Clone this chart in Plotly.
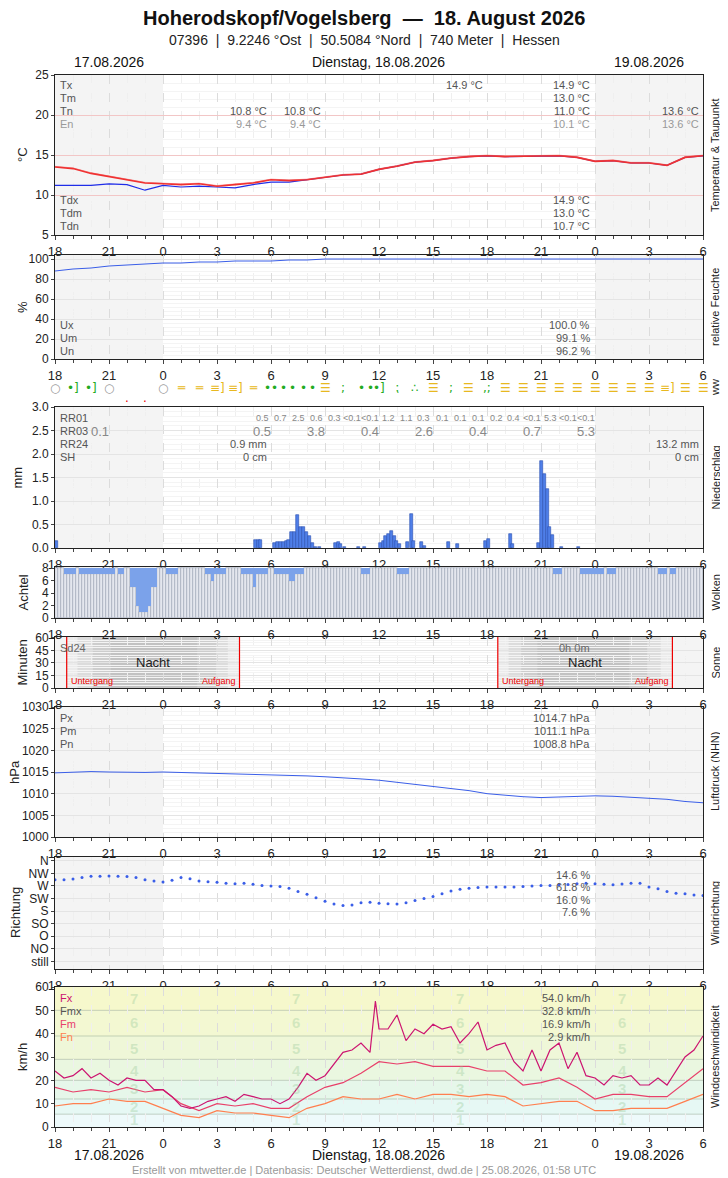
import plotly.graph_objects as go

# page body has an 8px margin -> figure drawn 8px in from top-left
OX, OY = 8, 8
W, H = 720, 1170
FONT = "Liberation Sans Narrow, Liberation Sans, Arial"

# ---------------- data ----------------
hours = list(range(0, 37))
tick_hours = list(range(0, 37, 3))
tick_text = ["18", "21", "0", "3", "6", "9", "12", "15", "18", "21", "0", "3", "6"]

temp = [13.5, 13.3, 12.7, 12.3, 11.9, 11.5, 11.4, 11.3, 11.4, 11.1, 11.3, 11.5, 11.9, 11.8, 11.9,
        12.2, 12.5, 12.6, 13.2, 13.6, 14.1, 14.3, 14.6, 14.8, 14.9, 14.8, 14.85, 14.9, 14.9, 14.7,
        14.2, 14.3, 14.0, 14.0, 13.7, 14.7, 14.9]
dewp = [11.2, 11.2, 11.2, 11.4, 11.3, 10.6, 11.2, 11.0, 11.1, 11.0, 10.9, 11.3, 11.6, 11.6, 11.9,
        12.2, 12.5, 12.6, 13.2, 13.6, 14.1, 14.3, 14.6, 14.8, 14.9, 14.8, 14.85, 14.9, 14.9, 14.7,
        14.2, 14.3, 14.0, 14.0, 13.7, 14.7, 14.9]
humid = [88, 90, 91, 93, 94, 95, 96, 96, 97, 97, 98, 98, 98, 99, 99, 100, 100, 100, 100, 100, 100,
         100, 100, 100, 100, 100, 100, 100, 100, 100, 100, 100, 100, 100, 100, 100, 100]

ww_hours = [0, 1, 2, 3, 4, 5, 6, 7, 8, 9, 10, 11, 11.8, 12.2, 12.7, 13.2, 13.8, 14.3, 15, 16, 17, 17.5,
            18, 19, 20, 21, 22, 23, 24, 25, 26, 27, 28, 29, 30, 31, 32, 33, 34, 35, 36]
ww_syms = ["○", "•]", "•]", "○", ".", ".", "○", "═", "═", "≡]", "≡]", "═", "•", "•", "•", "•", "•", "•",
           "☰", ";", "•", "•", "•]", "⁏", "∴", "☰", ";", "☰", ",;", "☰", "☰", "☰", "☰", "☰", "☰", "☰",
           "☰", "☰", "≡]", "☰", "☰"]

precip_t = [0.0, 11.05, 11.2, 11.35, 12.1, 12.3, 12.45, 12.6, 12.75, 12.9, 13.05, 13.2, 13.4, 13.55,
            13.7, 13.9, 14.05, 14.2, 14.4, 14.6, 15.5, 15.65, 15.8, 16.0, 16.8, 17.1, 18.0, 18.15,
            18.3, 18.45, 18.6, 18.75, 18.9, 19.05, 19.5, 19.7, 19.85, 20.3, 20.45, 21.8, 22.3, 23.85,
            24.0, 25.2, 25.35, 26.8, 26.95, 27.1, 27.25, 27.4, 27.55, 28.05, 29.0]
precip_mm = [0.15, 0.17, 0.18, 0.17, 0.1, 0.12, 0.13, 0.12, 0.15, 0.18, 0.35, 0.35, 0.7, 0.45,
             0.45, 0.35, 0.25, 0.1, 0.03, 0.02, 0.1, 0.12, 0.08, 0.03, 0.03, 0.03, 0.1, 0.15,
             0.25, 0.3, 0.37, 0.25, 0.15, 0.08, 0.12, 0.72, 0.15, 0.12, 0.05, 0.12, 0.08, 0.15,
             0.2, 0.3, 0.08, 0.1, 1.85, 1.57, 1.26, 0.45, 0.27, 0.02, 0.02]
rr01_h = [11.5, 12.5, 13.5, 14.5, 15.5, 16.5, 17.5, 18.5, 19.5, 20.5, 21.5, 22.5, 23.5, 24.5, 25.5,
          26.5, 27.5, 28.5, 29.5]
rr01_t = ["0.5", "0.7", "2.5", "0.6", "0.3", "<0.1", "<0.1", "1.2", "1.1", "0.3", "0.1", "0.1", "0.1",
          "0.2", "0.4", "<0.1", "5.3", "<0.1", "<0.1"]
rr03_h = [2.5, 11.5, 14.5, 17.5, 20.5, 23.5, 26.5, 29.5]
rr03_t = ["0.1", "0.5", "3.8", "0.4", "2.6", "0.4", "0.7", "5.3"]

cloud_seg_start = [0.5, 1.3, 3.5, 4.2, 4.5, 4.6, 5.1, 5.3, 6.2, 8.4, 8.7, 8.9, 10.3, 11.0, 11.2,
                   12.2, 13.0, 13.4, 17.0, 19.0, 27.7, 29.2, 30.7, 33.5, 34.2]
cloud_seg_end = [1.2, 3.3, 3.9, 4.5, 4.6, 5.1, 5.3, 5.6, 6.8, 8.7, 8.9, 9.5, 11.0, 11.2, 11.8,
                 13.0, 13.4, 13.8, 17.5, 19.6, 28.1, 30.5, 31.2, 34.0, 34.5]
cloud_seg_val = [7, 7, 7, 5, 2, 1, 2, 5, 7, 7, 6, 7, 7, 5, 7, 7, 6, 7, 7, 7, 7, 7, 7, 7, 7]

night_layers = [  # start, end, colour
    (0.65, 10.25, "#ebebeb"), (1.25, 9.6, "#dcdcdc"), (2.1, 8.95, "#cdcdcd"), (3.1, 7.9, "#c2c2c2"),
    (24.6, 34.3, "#ebebeb"), (25.2, 33.65, "#dcdcdc"), (25.9, 32.9, "#cdcdcd"), (26.8, 31.9, "#c2c2c2")]
sunset_h = [0.65, 24.6]
sunrise_h = [10.25, 34.3]

press = [1014.8, 1014.9, 1015.1, 1015.0, 1014.9, 1014.9, 1015.0, 1014.9, 1014.7, 1014.6, 1014.6,
         1014.5, 1014.4, 1014.2, 1014.1, 1013.9, 1013.7, 1013.4, 1013.1, 1012.6, 1012.1, 1011.6,
         1011.1, 1010.7, 1010.0, 1009.6, 1009.3, 1009.1, 1009.2, 1009.4, 1009.5, 1009.4, 1009.2,
         1009.0, 1008.7, 1008.2, 1007.9]

wdir_h = [i * 0.5 for i in range(73)]
wdir = [292, 292, 295, 300, 305, 305, 306, 305, 304, 300, 292, 288, 284, 290, 300, 296, 288, 285,
        283, 280, 278, 280, 276, 272, 270, 268, 262, 250, 240, 228, 215, 205, 200, 202, 210, 212,
        208, 206, 205, 210, 218, 225, 232, 242, 252, 258, 262, 264, 266, 266, 266, 266, 268, 270,
        272, 272, 274, 275, 278, 280, 278, 276, 274, 277, 280, 280, 266, 260, 250, 244, 242, 238, 236]

fx_h = [i * 0.5 for i in range(73)]
fx = [24, 21, 22, 25, 21, 23, 20, 18, 21, 20, 20, 16, 16, 13, 9, 8, 9, 11, 12, 13, 11, 14, 13, 12,
      12, 10, 12, 17, 23, 20, 22, 27, 32, 33, 36, 32, 42, 42, 48, 37, 42, 40, 44, 42, 43, 36, 40, 45,
      33, 35, 36, 28, 24, 33, 24, 33, 36, 25, 32, 22, 21, 18, 22, 21, 22, 18, 18, 21, 18, 24, 30, 33, 39]
fx_spike_h = [17.8]
fx_spike = [54]
fm = [17, 15, 16, 15, 17, 15, 16, 10, 7, 10, 9, 10, 8, 8, 13, 17, 19, 23, 28, 27, 28, 26, 26, 26,
      24, 24, 18, 19, 21, 17, 12, 14, 14, 13, 13, 19, 25]
fn = [9, 10, 10, 12, 11, 11, 8, 5, 4, 7, 6, 6, 5, 4, 8, 10, 13, 12, 12, 14, 12, 14, 14, 13, 14, 13,
      9, 10, 11, 11, 7, 7, 8, 8, 8, 11, 14]
bft_lower = [0, 5.5, 12, 20, 29, 39, 50]
bft_upper = [5.5, 12, 20, 29, 39, 50, 60]
bft_colors = ["#eefafb", "#e6f8f4", "#e6f7ea", "#eaf7e0", "#eff7d8", "#f3f8d2", "#f6f8cc"]
bft_digit_y = [3.3, 8.6, 16.3, 24.4, 33.7, 45, 55]

# ---------------- layout helpers ----------------
def yp(p):
    return 1 - (p - OY) / H

def xp(p):
    return (p - OX) / W

XL, XR = 55, 703
panels = [  # top, bottom, range, ytitle, right title, dtick, ytitle x
    (75, 235, [5, 25], "°C", "Temperatur & Taupunkt", 5, 22),
    (255, 359, [0, 104], "%", "relative Feuchte", 20, 22),
    (407, 548, [0, 3.0], "mm", "Niederschlag", 0.5, 17),
    (567, 618, [0, 8.2], "Achtel", "Wolken", 2, 23),
    (637, 688, [0, 61], "Minuten", "Sonne", 15, 22),
    (707, 837, [1000, 1030], "hPa", "Luftdruck (NHN)", 5, 14),
    (857, 969, [-0.6, 8.3], "Richtung", "Windrichtung", 1, 15),
    (987, 1127, [0, 60], "km/h", "Windgeschwindigkeit", 10, 22),
]

fig = go.Figure()
layout = dict(width=W, height=H, autosize=False, margin=dict(l=0, r=0, t=0, b=0, pad=0),
              paper_bgcolor="white", plot_bgcolor="white", showlegend=False,
              font=dict(family=FONT, size=12, color="#333"), bargap=0, barmode="overlay")
shapes, ann = [], []

for i, (top, bot, rng, ytit, rtit, dt, ytx) in enumerate(panels, start=1):
    xs = "" if i == 1 else str(i)
    layout["xaxis" + xs] = dict(domain=[xp(XL), xp(XR)], anchor="y" + xs, range=[0, 36],
                                automargin=False,
                                tickvals=tick_hours, ticktext=tick_text, ticks="outside", ticklen=4,
                                showline=True, linecolor="#222", mirror=True, showgrid=True,
                                gridcolor="#dcdcdc", griddash="dash", zeroline=False,
                                tickfont=dict(size=13, color="#222"),
                                minor=dict(dtick=1, tick0=0, showgrid=True, gridcolor="#efefef",
                                           ticks="outside", ticklen=3, tickcolor="#444"),
                                matches=None if i == 1 else "x")
    yax = dict(domain=[yp(bot), yp(top)], anchor="x" + xs, range=rng, showline=True,
               automargin=False,
               linecolor="#222", mirror=True, ticks="outside", ticklen=3, zeroline=False,
               showgrid=True, gridcolor="#e4e4e4", tickfont=dict(size=12, color="#222"),
               dtick=dt, tick0=rng[0] if i != 3 else 0,
               minor=dict(dtick=dt / 5, showgrid=True, gridcolor="#f4f4f4"))
    if i == 1:
        yax["gridcolor"] = "#f2c6c6"
        yax["tickvals"] = [5, 10, 15, 20, 25]
    if i == 2:
        yax["tickvals"] = [0, 20, 40, 60, 80, 100]
    if i == 3:
        yax["tickvals"] = [0, 0.5, 1, 1.5, 2, 2.5, 3]
        yax["ticktext"] = ["0.0", "0.5", "1.0", "1.5", "2.0", "2.5", "3.0"]
    if i == 4:
        yax["tickvals"] = [0, 2, 4, 6, 8]
        yax["showgrid"] = False
        yax["minor"] = dict(showgrid=False)
    if i == 5:
        yax["tickvals"] = [0, 15, 30, 45, 60]
    if i == 7:
        yax["tickvals"] = list(range(0, 9))
        yax["ticktext"] = ["still", "NO", "O", "SO", "S", "SW", "W", "NW", "N"]
        yax["minor"] = dict(showgrid=False)
    if i == 8:
        yax["tickvals"] = [0, 10, 20, 30, 40, 50, 60]
        yax["showgrid"] = False
        yax["minor"] = dict(showgrid=False)
    layout["yaxis" + xs] = yax
    # day shading
    for a, b in [(0, 6), (30, 36)]:
        shapes.append(dict(type="rect", xref="x" + xs, yref="y" + xs + " domain", x0=a, x1=b, y0=0,
                           y1=1, fillcolor="rgba(0,0,0,0.045)", line=dict(width=0), layer="below"))
    mid = (top + bot) / 2
    ann.append(dict(text=ytit, x=xp(ytx), y=yp(mid), xref="paper", yref="paper", textangle=-90,
                    showarrow=False, font=dict(size=13, color="#222")))
    ann.append(dict(text=rtit, x=xp(715), y=yp(mid), xref="paper", yref="paper", textangle=-90,
                    showarrow=False, font=dict(size=11, color="#222")))

# ---------------- panel 1: temperature ----------------
fig.add_trace(go.Scatter(x=hours, y=dewp, mode="lines", line=dict(color="#1f2de8", width=1.2),
                         xaxis="x", yaxis="y"))
fig.add_trace(go.Scatter(x=hours, y=temp, mode="lines", line=dict(color="#f03030", width=1.6),
                         xaxis="x", yaxis="y"))
fig.add_trace(go.Scatter(x=hours, y=[t + 0.08 for t in temp], mode="lines",
                         line=dict(color="rgba(240,60,60,0.5)", width=1), xaxis="x", yaxis="y"))

def lab(text, xpx, ypx, color="#555", anchor="left", size=11):
    ann.append(dict(text=text, x=xp(xpx), y=yp(ypx), xref="paper", yref="paper", showarrow=False,
                    xanchor=anchor, yanchor="middle", font=dict(size=size, color=color)))

for t, yy, c in [("Tx", 85, "#555"), ("Tm", 98, "#555"), ("Tn", 111, "#555"), ("En", 124, "#999"),
                 ("Tdx", 200, "#555"), ("Tdm", 213, "#555"), ("Tdn", 226, "#555")]:
    lab(t, 58, yy, c)
lab("14.9 °C", 485, 85, anchor="right")
for t, yy, c in [("14.9 °C", 85, "#555"), ("13.0 °C", 98, "#555"), ("11.0 °C", 111, "#555"),
                 ("10.1 °C", 124, "#999"), ("14.9 °C", 200, "#555"), ("13.0 °C", 213, "#555"),
                 ("10.7 °C", 226, "#555")]:
    lab(t, 592, yy, c, "right")
lab("10.8 °C", 269, 111, anchor="right"); lab("9.4 °C", 269, 124, "#999", "right")
lab("10.8 °C", 323, 111, anchor="right"); lab("9.4 °C", 323, 124, "#999", "right")
lab("13.6 °C", 701, 111, anchor="right"); lab("13.6 °C", 701, 124, "#999", "right")

# ---------------- panel 2: humidity ----------------
fig.add_trace(go.Scatter(x=hours, y=humid, mode="lines", line=dict(color="#3a5ee8", width=1),
                         xaxis="x2", yaxis="y2"))
for t, yy in [("Ux", 325), ("Um", 338), ("Un", 351)]:
    lab(t, 58, yy)
for t, yy in [("100.0 %", 325), ("99.1 %", 338), ("96.2 %", 351)]:
    lab(t, 592, yy, anchor="right")

# ---------------- ww row ----------------
for h, s in zip(ww_hours, ww_syms):
    col = "#999" if s == "○" else ("#e00" if s == "." else ("#22aa22" if s in ["•]", "•", ";", "⁏", "∴", ",;"] else "#e8b820"))
    ypx = 398 if s == "." else 388
    ann.append(dict(text=s, x=xp(XL + h * 18), y=yp(ypx), xref="paper", yref="paper", showarrow=False,
                    font=dict(size=12 if s not in ["•", "."] else 12, color=col, family="DejaVu Sans")))
ann.append(dict(text="ww", x=xp(715), y=yp(388), xref="paper", yref="paper", textangle=-90,
                showarrow=False, font=dict(size=11, color="#222")))

# ---------------- panel 3: precipitation ----------------
fig.add_trace(go.Bar(x=[t + 1 / 12 for t in precip_t], y=precip_mm, width=1 / 6,
                     marker=dict(color="#4f7fe8", line=dict(color="#2a4fb0", width=0.6)),
                     xaxis="x3", yaxis="y3"))
for t, yy in [("RR01", 418), ("RR03", 431), ("RR24", 444), ("SH", 457)]:
    lab(t, 58, yy)
for h, t in zip(rr01_h, rr01_t):
    ann.append(dict(text=t, x=xp(XL + h * 18), y=yp(418), xref="paper", yref="paper",
                    showarrow=False, font=dict(size=9, color="#888")))
for h, t in zip(rr03_h, rr03_t):
    ann.append(dict(text=t, x=xp(XL + h * 18), y=yp(431), xref="paper", yref="paper",
                    showarrow=False, font=dict(size=13, color="#888")))
lab("0.9 mm", 269, 444, anchor="right"); lab("0 cm", 269, 457, anchor="right")
lab("13.2 mm", 701, 444, anchor="right"); lab("0 cm", 701, 457, anchor="right")

# ---------------- panel 4: clouds ----------------
cl_t = [i / 6 for i in range(216)]
cl_v = []
for t in cl_t:
    v = 8
    for a, b, c in zip(cloud_seg_start, cloud_seg_end, cloud_seg_val):
        if a <= t + 1 / 12 < b:
            v = c
    cl_v.append(v)
fig.add_trace(go.Bar(x=[t + 1 / 12 for t in cl_t], y=cl_v, width=1 / 6,
                     marker=dict(color="#e4e7ee", line=dict(color="#9aa2b4", width=0.6)),
                     xaxis="x4", yaxis="y4"))
fig.add_trace(go.Bar(x=[t + 1 / 12 for t in cl_t], y=[8 - v for v in cl_v], base=cl_v, width=1 / 6,
                     marker=dict(color="#7ba2ea", line=dict(width=0)), xaxis="x4", yaxis="y4"))

# ---------------- panel 5: sun ----------------
for a, b, c in night_layers:
    shapes.append(dict(type="rect", xref="x5", yref="y5 domain", x0=a, x1=b, y0=0, y1=1,
                       fillcolor=c, line=dict(width=0), layer="below"))
for h in sunset_h + sunrise_h:
    shapes.append(dict(type="line", xref="x5", yref="y5 domain", x0=h, x1=h, y0=0, y1=1,
                       line=dict(color="#e00", width=1.2)))
for h in sunset_h:
    ann.append(dict(text="Untergang", x=h + 0.1, y=0, xref="x5", yref="y5", xanchor="left",
                    yanchor="bottom", showarrow=False, font=dict(size=9, color="#e00")))
for h in sunrise_h:
    ann.append(dict(text="Aufgang", x=h - 0.1, y=0, xref="x5", yref="y5", xanchor="right",
                    yanchor="bottom", showarrow=False, font=dict(size=9, color="#e00")))
for a, b in zip(sunset_h, sunrise_h):
    ann.append(dict(text="Nacht", x=(a + b) / 2, y=30, xref="x5", yref="y5", showarrow=False,
                    font=dict(size=13, color="#222")))
lab("Sd24", 58, 648, "#666")
lab("0h 0m", 592, 648, "#666", "right")

# ---------------- panel 6: pressure ----------------
fig.add_trace(go.Scatter(x=hours, y=press, mode="lines", line=dict(color="#3a5ee8", width=1),
                         xaxis="x6", yaxis="y6"))
for t, yy in [("Px", 718), ("Pm", 731), ("Pn", 744)]:
    lab(t, 58, yy)
for t, yy in [("1014.7 hPa", 718), ("1011.1 hPa", 731), ("1008.8 hPa", 744)]:
    lab(t, 592, yy, anchor="right")

# ---------------- panel 7: wind direction ----------------
fig.add_trace(go.Scatter(x=wdir_h, y=[d / 45 for d in wdir], mode="markers",
                         marker=dict(color="#3a5ee8", size=3), xaxis="x7", yaxis="y7"))
for t, yy in [("14.6 %", 875), ("61.8 %", 887), ("16.0 %", 900), ("7.6 %", 912)]:
    lab(t, 592, yy, anchor="right")

# ---------------- panel 8: wind speed ----------------
for lo, hi, c in zip(bft_lower, bft_upper, bft_colors):
    shapes.append(dict(type="rect", xref="x8", yref="y8", x0=0, x1=36, y0=lo, y1=hi, fillcolor=c,
                       line=dict(width=0), layer="below"))
    if lo > 0:
        shapes.append(dict(type="line", xref="x8", yref="y8", x0=0, x1=36, y0=lo, y1=lo,
                           line=dict(color="rgba(140,160,140,0.45)", width=1), layer="below"))
for k, yv in enumerate(bft_digit_y, start=1):
    for xh in [4.4, 13.4, 22.5, 31.5]:
        ann.append(dict(text="<b>%d</b>" % k, x=xh, y=yv, xref="x8", yref="y8", showarrow=False,
                        font=dict(size=15, color="rgba(150,200,150,0.35)")))
fig.add_trace(go.Scatter(x=hours, y=fn, mode="lines", line=dict(color="#ff7f4f", width=1.2),
                         xaxis="x8", yaxis="y8"))
fig.add_trace(go.Scatter(x=hours, y=fm, mode="lines", line=dict(color="#e8406a", width=1.2),
                         xaxis="x8", yaxis="y8"))
fx_all = sorted(zip(fx_h + fx_spike_h, fx + fx_spike))
fig.add_trace(go.Scatter(x=[a for a, b in fx_all], y=[b for a, b in fx_all], mode="lines",
                         line=dict(color="#cc1470", width=1.2), xaxis="x8", yaxis="y8"))
for t, yy, c in [("Fx", 998, "#cc1470"), ("Fmx", 1011, "#555"), ("Fm", 1024, "#e8406a"),
                 ("Fn", 1037, "#ff7f4f")]:
    lab(t, 58, yy, c)
for t, yy in [("54.0 km/h", 998), ("32.8 km/h", 1011), ("16.9 km/h", 1024), ("2.9 km/h", 1037)]:
    lab(t, 592, yy, anchor="right")

# ---------------- titles ----------------
ann.append(dict(text="<b>Hoherodskopf/Vogelsberg  —  18. August 2026</b>", x=xp(364), y=yp(18),
                xref="paper", yref="paper", showarrow=False, font=dict(size=20, color="#111")))
ann.append(dict(text="07396  |  9.2246 °Ost  |  50.5084 °Nord  |  740 Meter  |  Hessen", x=xp(364),
                y=yp(40), xref="paper", yref="paper", showarrow=False, font=dict(size=14, color="#222")))
for t, xpx, yy in [("17.08.2026", 109, 62), ("Dienstag, 18.08.2026", 379, 62), ("19.08.2026", 649, 62),
                   ("17.08.2026", 109, 1155), ("Dienstag, 18.08.2026", 379, 1155),
                   ("19.08.2026", 649, 1155)]:
    ann.append(dict(text=t, x=xp(xpx), y=yp(yy), xref="paper", yref="paper", showarrow=False,
                    font=dict(size=14, color="#111")))
ann.append(dict(text="Erstellt von mtwetter.de | Datenbasis: Deutscher Wetterdienst, dwd.de | 25.08.2026, 01:58 UTC",
                x=xp(364), y=yp(1170), xref="paper", yref="paper", showarrow=False,
                font=dict(size=11, color="#999")))

for a in ann:
    a.setdefault("yanchor", "middle")
    a.setdefault("xanchor", "center")

layout["shapes"] = shapes
layout["annotations"] = ann
fig.update_layout(**layout)
fig.write_html("out.html")
